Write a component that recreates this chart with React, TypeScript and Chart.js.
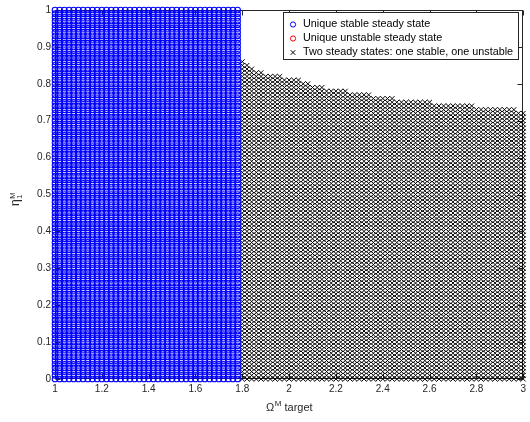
import React, { useEffect, useRef } from "react";
import { Chart, registerables } from "chart.js";

Chart.register(...registerables);

// ---- data ----
const X_TICKS = [1, 1.2, 1.4, 1.6, 1.8, 2, 2.2, 2.4, 2.6, 2.8, 3];
const Y_TICKS = [0, 0.1, 0.2, 0.3, 0.4, 0.5, 0.6, 0.7, 0.8, 0.9, 1];
const X_TICK_LABELS = ["1", "1.2", "1.4", "1.6", "1.8", "2", "2.2", "2.4", "2.6", "2.8", "3"];
const Y_TICK_LABELS = ["0", "0.1", "0.2", "0.3", "0.4", "0.5", "0.6", "0.7", "0.8", "0.9", "1"];

const SERIES_LABELS = [
  "Unique stable steady state",
  "Unique unstable steady state",
  "Two steady states: one stable, one unstable",
];
const SERIES_COLORS = ["#0000ff", "#ff0000", "#000000"];

// parameter grid of the sweep
const GRID_STEP_X = 0.02;
const GRID_STEP_Y = 0.01;

// region 1: unique stable steady state, columns x = 1.00 .. 1.78, full height
const STABLE_X_FROM = 1.0;
const STABLE_X_TO = 1.78;
const STABLE_Y_MAX = 1.0;

// region 3: two steady states, columns x = 1.80 .. 3.00, upper boundary per column
const TWO_STATE_X_FROM = 1.8;
const TWO_STATE_Y_MAX = [
  0.86, 0.85, 0.84, 0.83, 0.83,
  0.82, 0.82, 0.82, 0.82,
  0.81, 0.81, 0.81, 0.81,
  0.80, 0.80, 0.79, 0.79, 0.79,
  0.78, 0.78, 0.78, 0.78, 0.78,
  0.77, 0.77, 0.77, 0.77, 0.77,
  0.76, 0.76, 0.76, 0.76, 0.76,
  0.75, 0.75, 0.75, 0.75, 0.75, 0.75, 0.75, 0.75,
  0.74, 0.74, 0.74, 0.74, 0.74, 0.74, 0.74, 0.74, 0.74,
  0.73, 0.73, 0.73, 0.73, 0.73, 0.73, 0.73, 0.73, 0.73,
  0.72, 0.72,
];

// region 2: unique unstable steady state (none in this sweep)
const UNSTABLE_POINTS: { x: number; y: number }[] = [];

const r2 = (v: number) => Math.round(v * 100) / 100;

function columnPoints(x: number, yMax: number) {
  const pts: { x: number; y: number }[] = [];
  const n = Math.round(yMax / GRID_STEP_Y);
  for (let j = 0; j <= n; j++) pts.push({ x, y: r2(j * GRID_STEP_Y) });
  return pts;
}

function stablePoints() {
  const pts: { x: number; y: number }[] = [];
  const n = Math.round((STABLE_X_TO - STABLE_X_FROM) / GRID_STEP_X);
  for (let i = 0; i <= n; i++) pts.push(...columnPoints(r2(STABLE_X_FROM + i * GRID_STEP_X), STABLE_Y_MAX));
  return pts;
}

function twoStatePoints() {
  const pts: { x: number; y: number }[] = [];
  TWO_STATE_Y_MAX.forEach((ym, i) => pts.push(...columnPoints(r2(TWO_STATE_X_FROM + i * GRID_STEP_X), ym)));
  return pts;
}

const AX = "#262626";
const FONT = "'Liberation Sans', Arial, Helvetica, sans-serif";

const framePlugin = {
  id: "frame",
  beforeDatasetsDraw(chart: any) {
    const { ctx, chartArea, scales } = chart;
    const { left, right, top, bottom } = chartArea;
    ctx.save();
    ctx.strokeStyle = AX;
    ctx.lineWidth = 1;
    const L = Math.round(left) + 0.5, R = Math.round(right) - 0.5;
    const T = Math.round(top) + 0.5, B = Math.round(bottom) - 0.5;
    ctx.strokeRect(L, T, R - L, B - T);
    ctx.beginPath();
    const tl = 5;
    scales.x.ticks.forEach((t: any) => {
      const px = Math.round(scales.x.getPixelForValue(t.value)) + 0.5;
      ctx.moveTo(px, B); ctx.lineTo(px, B - tl);
      ctx.moveTo(px, T); ctx.lineTo(px, T + tl);
    });
    scales.y.ticks.forEach((t: any) => {
      const py = Math.round(scales.y.getPixelForValue(t.value)) + 0.5;
      ctx.moveTo(L, py); ctx.lineTo(L + tl, py);
      ctx.moveTo(R, py); ctx.lineTo(R - tl, py);
    });
    ctx.stroke();
    ctx.restore();
  },
  afterDraw(chart: any) {
    const { ctx, chartArea } = chart;
    ctx.save();
    // x title: Ω^M target
    ctx.fillStyle = AX;
    ctx.textBaseline = "alphabetic";
    const cx = (chartArea.left + chartArea.right) / 2;
    const baseY = 411;
    ctx.font = `11px ${FONT}`;
    const wO = ctx.measureText("\u03A9").width;
    const wT = ctx.measureText(" target").width;
    ctx.font = `8px ${FONT}`;
    const wM = ctx.measureText("M").width;
    let x0 = cx - (wO + wM + wT) / 2;
    ctx.font = `11px ${FONT}`;
    ctx.fillText("\u03A9", x0, baseY);
    ctx.font = `8px ${FONT}`;
    ctx.fillText("M", x0 + wO + 0.5, baseY - 5);
    ctx.font = `11px ${FONT}`;
    ctx.fillText(" target", x0 + wO + wM + 0.5, baseY);

    // y title: η_1^M rotated
    ctx.save();
    ctx.translate(19, 206);
    ctx.rotate(-Math.PI / 2);
    ctx.font = `12px ${FONT}`;
    ctx.fillText("\u03B7", 0, 0);
    const wE = ctx.measureText("\u03B7").width;
    ctx.font = `7.5px ${FONT}`;
    ctx.fillText("M", wE + 0.5, -4.5);
    ctx.fillText("1", wE + 0.5, 2.5);
    ctx.restore();

    // legend
    const bx = 283.5, by = 12.5, bw = 235, bh = 47;
    ctx.fillStyle = "#ffffff";
    ctx.fillRect(bx, by, bw, bh);
    ctx.strokeStyle = AX;
    ctx.lineWidth = 1;
    ctx.strokeRect(bx, by, bw, bh);
    const rows = [24.5, 38.5, 52.5];
    chart.data.datasets.forEach((ds: any, i: number) => {
      const my = rows[i];
      const mx = 293;
      ctx.strokeStyle = ds.borderColor;
      ctx.lineWidth = 1;
      ctx.beginPath();
      if (ds.pointStyle === "crossRot") {
        ctx.moveTo(mx - 2.3, my - 2.3); ctx.lineTo(mx + 2.3, my + 2.3);
        ctx.moveTo(mx + 2.3, my - 2.3); ctx.lineTo(mx - 2.3, my + 2.3);
      } else {
        ctx.arc(mx, my, 2.6, 0, Math.PI * 2);
      }
      ctx.stroke();
      ctx.fillStyle = "#000000";
      ctx.font = `10.8px ${FONT}`;
      ctx.textBaseline = "middle";
      ctx.fillText(ds.label, 303, my);
    });
    ctx.restore();
  },
};

export default function App() {
  const ref = useRef<HTMLCanvasElement | null>(null);

  useEffect(() => {
    if (!ref.current) return;
    const chart = new Chart(ref.current, {
      type: "scatter",
      data: {
        datasets: [
          {
            label: SERIES_LABELS[0],
            data: stablePoints(),
            pointStyle: "circle",
            pointRadius: 2.8,
            borderColor: SERIES_COLORS[0],
            backgroundColor: "rgba(0,0,0,0)",
            borderWidth: 1.1,
            clip: 6,
          },
          {
            label: SERIES_LABELS[1],
            data: UNSTABLE_POINTS,
            pointStyle: "circle",
            pointRadius: 2.8,
            borderColor: SERIES_COLORS[1],
            backgroundColor: "rgba(0,0,0,0)",
            borderWidth: 1.1,
            clip: 6,
          },
          {
            label: SERIES_LABELS[2],
            data: twoStatePoints(),
            pointStyle: "crossRot",
            pointRadius: 3.4,
            borderColor: SERIES_COLORS[2],
            backgroundColor: SERIES_COLORS[2],
            borderWidth: 1,
            clip: 6,
          },
        ] as any,
      },
      options: {
        animation: false,
        responsive: false,
        devicePixelRatio: 1,
        events: [],
        layout: { padding: { top: 4, right: 6, left: 0, bottom: 0 } },
        plugins: { legend: { display: false }, tooltip: { enabled: false } },
        scales: {
          x: {
            type: "linear",
            min: 1,
            max: 3,
            afterBuildTicks: (s: any) => {
              s.ticks = X_TICKS.map((v) => ({ value: v }));
            },
            afterFit: (s: any) => {
              s.height = 43;
            },
            grid: { display: false, drawTicks: false },
            border: { display: false },
            ticks: {
              padding: 4,
              color: AX,
              font: { family: FONT, size: 10 },
              maxRotation: 0,
              autoSkip: false,
              callback: (v: any) => X_TICK_LABELS[X_TICKS.findIndex((t) => Math.abs(t - v) < 1e-9)] ?? "",
            },
          },
          y: {
            type: "linear",
            min: 0,
            max: 1,
            afterBuildTicks: (s: any) => {
              s.ticks = Y_TICKS.map((v) => ({ value: v }));
            },
            afterFit: (s: any) => {
              s.width = 55;
            },
            grid: { display: false, drawTicks: false },
            border: { display: false },
            ticks: {
              padding: 4,
              color: AX,
              font: { family: FONT, size: 10 },
              autoSkip: false,
              callback: (v: any) => Y_TICK_LABELS[Y_TICKS.findIndex((t) => Math.abs(t - v) < 1e-9)] ?? "",
            },
          },
        },
      } as any,
      plugins: [framePlugin],
    });
    return () => chart.destroy();
  }, []);

  return (
    <div style={{ position: "fixed", left: 0, top: 0, width: 530, height: 422, background: "#fff" }}>
      <canvas ref={ref} width={530} height={422} style={{ display: "block", width: 530, height: 422 }} />
    </div>
  );
}
